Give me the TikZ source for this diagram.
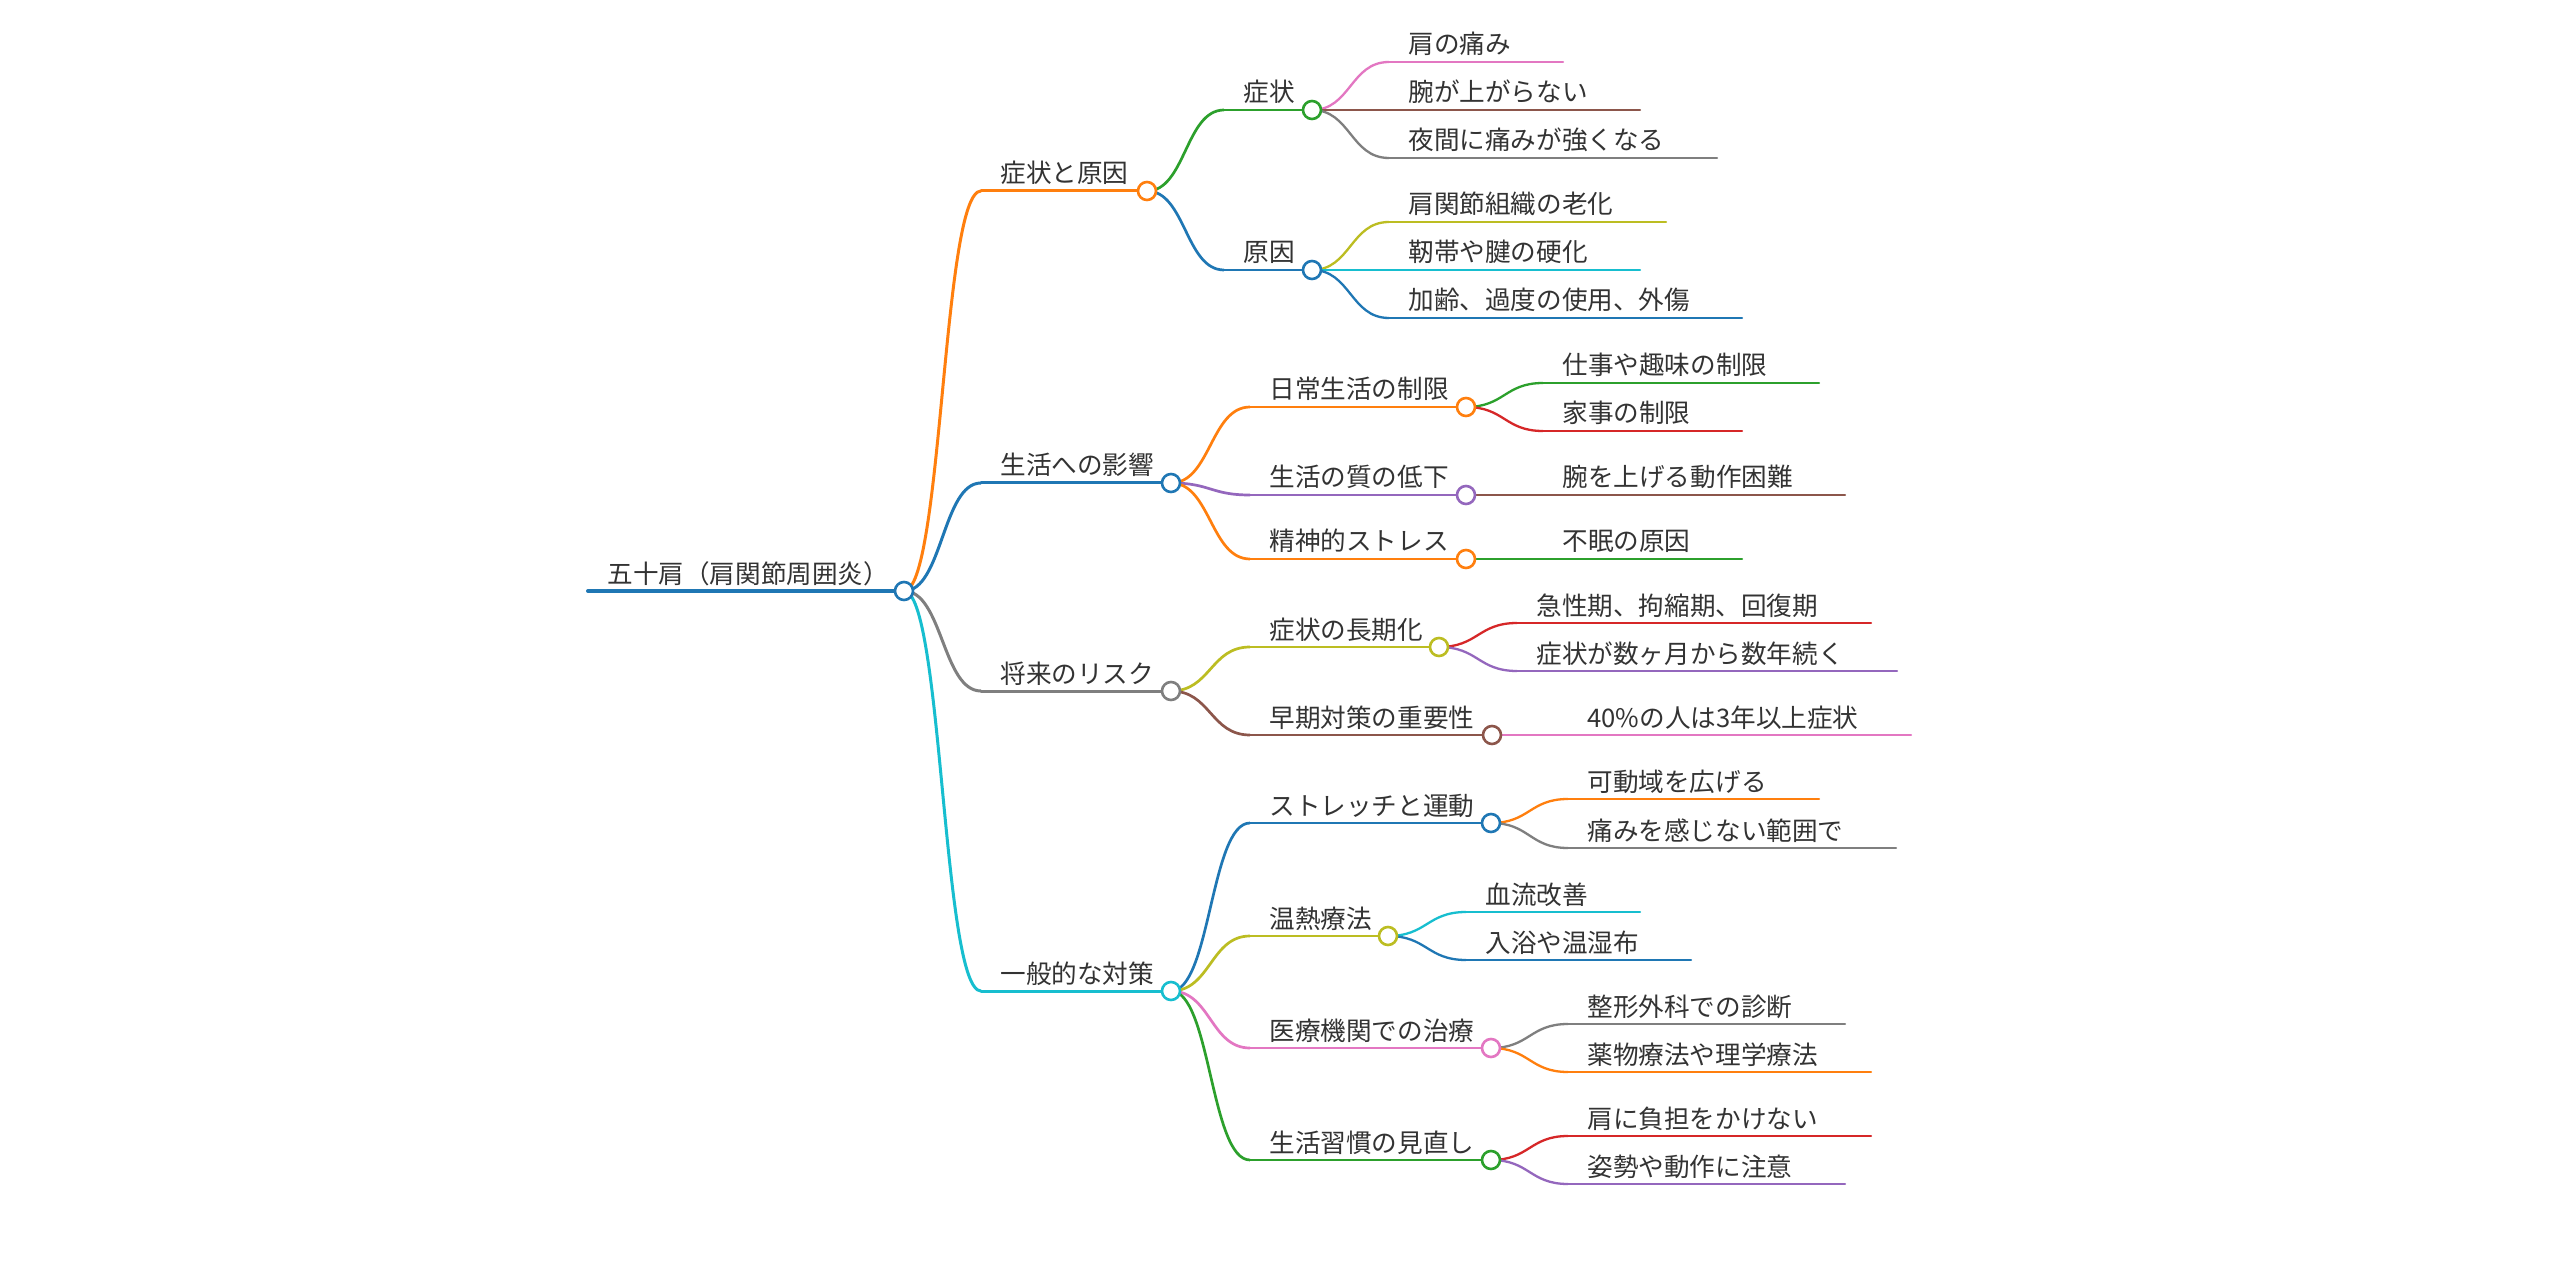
\documentclass[tikz,border=0pt]{standalone}
\usepackage{fontspec}
\setmainfont{Noto Sans CJK JP}
\usetikzlibrary{calc}
\definecolor{c0}{HTML}{1F77B4}
\definecolor{c1}{HTML}{FF7F0E}
\definecolor{c2}{HTML}{2CA02C}
\definecolor{c3}{HTML}{D62728}
\definecolor{c4}{HTML}{9467BD}
\definecolor{c5}{HTML}{8C564B}
\definecolor{c6}{HTML}{E377C2}
\definecolor{c7}{HTML}{7F7F7F}
\definecolor{c8}{HTML}{BCBD22}
\definecolor{c9}{HTML}{17BECF}
\definecolor{txt}{HTML}{333333}
\tikzset{
  lbl/.style={anchor=base west, inner sep=0pt, text=txt, font=\fontsize{12.8}{15}\selectfont},
  w0/.style={line width=2pt},
  w1/.style={line width=1.5pt},
  w2/.style={line width=1.35pt},
  w3/.style={line width=1.15pt},
  dot/.style={line width=1.3pt, fill=white},
}
% name, start x, end x, y, colour, width style, text
\newcommand\mmn[7]{%
  \coordinate (#1-s) at (#2,#4);
  \coordinate (#1) at (#3,#4);
  \draw[#5, #6, line cap=round] (#1-s) -- (#1);
  \node[lbl] (#1-t) at ($(#2,#4)+(19,-8)$) {#7};
}
% parent, child, colour, width style
\newcommand\mml[4]{%
  \draw[#3, #4] let \p1=(#1), \p2=(#2-s) in
    (\p1) .. controls ({0.5*\x1+0.5*\x2},\y1) and ({0.5*\x1+0.5*\x2},\y2) .. (\p2);
}
\newcommand\mmc[2]{\draw[#2, dot] (#1) circle[radius=4.5pt];}
\begin{document}
\begin{tikzpicture}[x=0.5pt, y=-0.5pt]
\path[use as bounding box, fill=white] (0,0) rectangle (2560,1278);
% root
\mmn{R}{588}{904}{591}{c0}{w0}{五十肩（肩関節周囲炎）}
% level 1
\mmn{A}{981}{1147}{191}{c1}{w1}{症状と原因}
\mmn{B}{981}{1171}{483}{c0}{w1}{生活への影響}
\mmn{C}{981}{1171}{691}{c7}{w1}{将来のリスク}
\mmn{D}{981}{1171}{991}{c9}{w1}{一般的な対策}
% level 2
\mmn{A1}{1224}{1312}{110}{c2}{w2}{症状}
\mmn{A2}{1224}{1312}{270}{c0}{w2}{原因}
\mmn{B1}{1250}{1466}{407}{c1}{w2}{日常生活の制限}
\mmn{B2}{1250}{1466}{495}{c4}{w2}{生活の質の低下}
\mmn{B3}{1250}{1466}{559}{c1}{w2}{精神的ストレス}
\mmn{C1}{1250}{1439}{647}{c8}{w2}{症状の長期化}
\mmn{C2}{1250}{1492}{735}{c5}{w2}{早期対策の重要性}
\mmn{D1}{1250}{1491}{823}{c0}{w2}{ストレッチと運動}
\mmn{D2}{1250}{1388}{936}{c8}{w2}{温熱療法}
\mmn{D3}{1250}{1491}{1048}{c6}{w2}{医療機関での治療}
\mmn{D4}{1250}{1491}{1160}{c2}{w2}{生活習慣の見直し}
% leaves
\mmn{A11}{1389}{1563}{62}{c6}{w3}{肩の痛み}
\mmn{A12}{1389}{1640}{110}{c5}{w3}{腕が上がらない}
\mmn{A13}{1389}{1717}{158}{c7}{w3}{夜間に痛みが強くなる}
\mmn{A21}{1389}{1666}{222}{c8}{w3}{肩関節組織の老化}
\mmn{A22}{1389}{1640}{270}{c9}{w3}{靭帯や腱の硬化}
\mmn{A23}{1389}{1742}{318}{c0}{w3}{加齢、過度の使用、外傷}
\mmn{B11}{1543}{1819}{383}{c2}{w3}{仕事や趣味の制限}
\mmn{B12}{1543}{1742}{431}{c3}{w3}{家事の制限}
\mmn{B21}{1543}{1845}{495}{c5}{w3}{腕を上げる動作困難}
\mmn{B31}{1543}{1742}{559}{c2}{w3}{不眠の原因}
\mmn{C11}{1517}{1871}{623}{c3}{w3}{急性期、拘縮期、回復期}
\mmn{C12}{1517}{1897}{671}{c4}{w3}{症状が数ヶ月から数年続く}
\mmn{C21}{1568}{1911}{735}{c6}{w3}{40\%の人は3年以上症状}
\mmn{D11}{1568}{1819}{799}{c1}{w3}{可動域を広げる}
\mmn{D12}{1568}{1896}{848}{c7}{w3}{痛みを感じない範囲で}
\mmn{D21}{1466}{1640}{912}{c9}{w3}{血流改善}
\mmn{D22}{1466}{1691}{960}{c0}{w3}{入浴や温湿布}
\mmn{D31}{1568}{1845}{1024}{c7}{w3}{整形外科での診断}
\mmn{D32}{1568}{1871}{1072}{c1}{w3}{薬物療法や理学療法}
\mmn{D41}{1568}{1871}{1136}{c3}{w3}{肩に負担をかけない}
\mmn{D42}{1568}{1845}{1184}{c4}{w3}{姿勢や動作に注意}
% links
\mml{R}{A}{c1}{w1}
\mml{R}{B}{c0}{w1}
\mml{R}{C}{c7}{w1}
\mml{R}{D}{c9}{w1}
\mml{A}{A1}{c2}{w2}
\mml{A}{A2}{c0}{w2}
\mml{B}{B1}{c1}{w2}
\mml{B}{B2}{c4}{w2}
\mml{B}{B3}{c1}{w2}
\mml{C}{C1}{c8}{w2}
\mml{C}{C2}{c5}{w2}
\mml{D}{D1}{c0}{w2}
\mml{D}{D2}{c8}{w2}
\mml{D}{D3}{c6}{w2}
\mml{D}{D4}{c2}{w2}
\mml{A1}{A11}{c6}{w3}
\mml{A1}{A12}{c5}{w3}
\mml{A1}{A13}{c7}{w3}
\mml{A2}{A21}{c8}{w3}
\mml{A2}{A22}{c9}{w3}
\mml{A2}{A23}{c0}{w3}
\mml{B1}{B11}{c2}{w3}
\mml{B1}{B12}{c3}{w3}
\mml{B2}{B21}{c5}{w3}
\mml{B3}{B31}{c2}{w3}
\mml{C1}{C11}{c3}{w3}
\mml{C1}{C12}{c4}{w3}
\mml{C2}{C21}{c6}{w3}
\mml{D1}{D11}{c1}{w3}
\mml{D1}{D12}{c7}{w3}
\mml{D2}{D21}{c9}{w3}
\mml{D2}{D22}{c0}{w3}
\mml{D3}{D31}{c7}{w3}
\mml{D3}{D32}{c1}{w3}
\mml{D4}{D41}{c3}{w3}
\mml{D4}{D42}{c4}{w3}
% circles
\mmc{R}{c0}
\mmc{A}{c1}
\mmc{B}{c0}
\mmc{C}{c7}
\mmc{D}{c9}
\mmc{A1}{c2}
\mmc{A2}{c0}
\mmc{B1}{c1}
\mmc{B2}{c4}
\mmc{B3}{c1}
\mmc{C1}{c8}
\mmc{C2}{c5}
\mmc{D1}{c0}
\mmc{D2}{c8}
\mmc{D3}{c6}
\mmc{D4}{c2}
\end{tikzpicture}
\end{document}
